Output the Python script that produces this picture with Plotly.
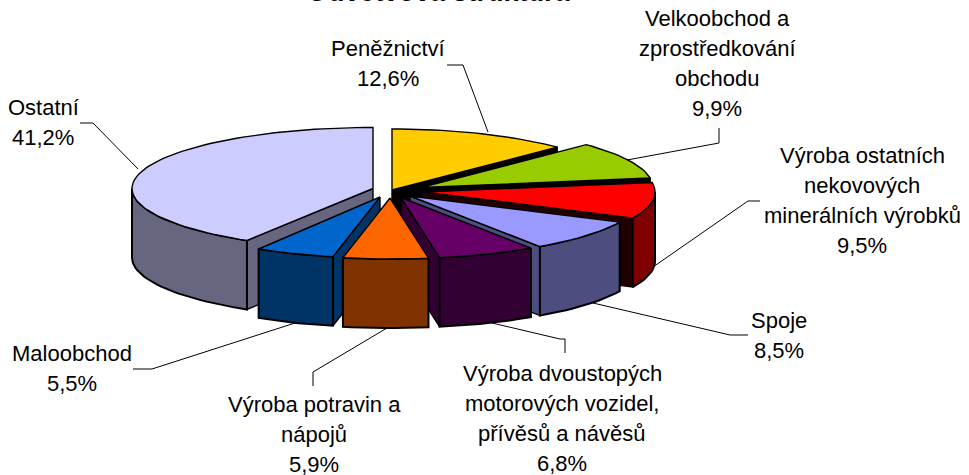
import math
import plotly.graph_objects as go

# --- data ---
categories = ["Peněžnictví", "Velkoobchod a zprostředkování obchodu",
              "Výroba ostatních nekovových minerálních výrobků", "Spoje",
              "Výroba dvoustopých motorových vozidel, přívěsů a návěsů",
              "Výroba potravin a nápojů", "Maloobchod", "Ostatní"]
values = [12.6, 9.9, 9.5, 8.5, 6.8, 5.9, 5.5, 41.2]
value_labels = ["12,6%", "9,9%", "9,5%", "8,5%", "6,8%", "5,9%", "5,5%", "41,2%"]
label_lines = [["Peněžnictví"], ["Velkoobchod a", "zprostředkování", "obchodu"],
               ["Výroba ostatních", "nekovových", "minerálních výrobků"], ["Spoje"],
               ["Výroba dvoustopých", "motorových vozidel,", "přívěsů a návěsů"],
               ["Výroba potravin a", "nápojů"], ["Maloobchod"], ["Ostatní"]]
title = "Odvětvová struktura"

# --- style / layout ---
top_colors = ["#FFCC00", "#99CC00", "#FF0000", "#9999FF", "#660066", "#FF6600", "#0066CC", "#CCCCFF"]
wall_colors = ["#806600", "#4D6600", "#800000", "#4D4D80", "#330033", "#803300", "#003366", "#666680"]
cut_colors = ["#000000", "#000000", "#200000", "#4D4D80", "#330033", "#803300", "#003366", "#666680"]
apex = [(392, 190), (421, 187.5), (423, 192), (410, 196), (401, 197.5), (390, 198), (380, 197), (373, 188.5)]
rx_list = [232, 232, 232, 232, 232, 232, 232, 241]
RY = 61
DEPTH = 69
draw_order = [0, 1, 2, 7, 3, 4, 6, 5]
FONT = "Liberation Sans"
FS = 22
LINE_H = 30
label_pos = [(388, 48), (717, 18), (862, 155), (779, 320), (562, 373), (314, 404), (72, 353), (43, 107)]
leaders = [[(447, 65), (463, 65), (488, 132)],
           [(627, 160), (715, 144), (719, 143), (719, 128)],
           [(760, 201), (748, 201), (653, 267)],
           [(748, 335), (730, 335), (593, 303)],
           [(565, 353), (565, 339), (560, 339), (492, 323)],
           [(313, 386), (313, 372), (387, 328)],
           [(133, 369), (152, 369), (295, 323)],
           [(80, 123), (93, 123), (138, 169)]]

total = sum(values)
bounds = [0.0]
for v in values:
    bounds.append(bounds[-1] + v / total * 360)


def point(i, deg):
    a = math.radians(deg)
    return apex[i][0] + rx_list[i] * math.sin(a), apex[i][1] - RY * math.cos(a)


def arc(i, a0, a1):
    n = max(2, int(abs(a1 - a0) / 2) + 1)
    return [point(i, a0 + (a1 - a0) * k / (n - 1)) for k in range(n)]


fig = go.Figure()


def poly(pts, color, width=1.4):
    xs = [p[0] for p in pts] + [pts[0][0]]
    ys = [p[1] for p in pts] + [pts[0][1]]
    fig.add_trace(go.Scatter(x=xs, y=ys, mode="lines", fill="toself", fillcolor=color,
                             line=dict(color="#000000", width=width), hoverinfo="skip", showlegend=False))


def down(pts):
    return [(x, y + DEPTH) for x, y in reversed(pts)]


for i in draw_order:
    a0, a1 = bounds[i], bounds[i + 1]
    ap = apex[i]
    if 0 < a1 < 180:
        edge = [ap, point(i, a1)]
        poly(edge + down(edge), cut_colors[i])
    if 180 < a0 < 360:
        edge = [ap, point(i, a0)]
        poly(edge + down(edge), cut_colors[i])
    lo, hi = max(a0, 90), min(a1, 270)
    if hi > lo:
        outer = arc(i, lo, hi)
        poly(outer + down(outer), wall_colors[i], 2)
    poly([ap] + arc(i, a0, a1), top_colors[i])

for pts in leaders:
    fig.add_trace(go.Scatter(x=[p[0] for p in pts], y=[p[1] for p in pts], mode="lines",
                             line=dict(color="#000000", width=1), hoverinfo="skip", showlegend=False))

anns = []
for i, lines in enumerate(label_lines):
    x, y = label_pos[i]
    for k, t in enumerate(lines + [value_labels[i]]):
        anns.append(dict(x=x, y=y + k * LINE_H, text=t, xref="x", yref="y",
                         font=dict(family=FONT, size=FS, color="#000000")))
anns.append(dict(x=439 / 969, y=1 + 8 / 475, xref="paper", yref="paper", text=f"<b>{title}</b>",
                 font=dict(family=FONT, size=27, color="#000000")))
for a in anns:
    a.update(showarrow=False, xanchor="center", yanchor="middle")

fig.update_layout(width=969, height=475, margin=dict(l=0, r=0, t=0, b=0),
                  paper_bgcolor="#FFFFFF", plot_bgcolor="#FFFFFF", showlegend=False,
                  annotations=anns,
                  xaxis=dict(range=[0, 969], visible=False, fixedrange=True),
                  yaxis=dict(range=[475, 0], visible=False, fixedrange=True))
fig.write_html("out.html", config={"displayModeBar": False},
               post_script="document.body.style.margin='0';document.documentElement.style.overflow='hidden';")
